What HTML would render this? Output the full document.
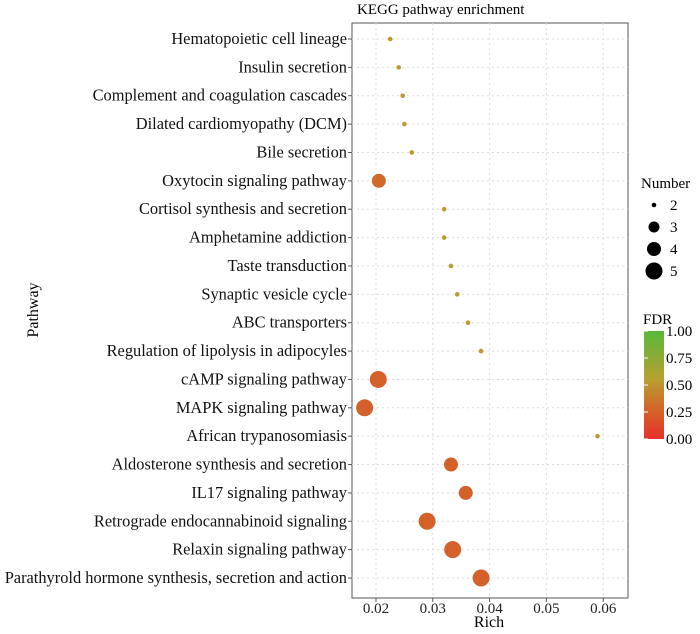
<!DOCTYPE html>
<html><head><meta charset="utf-8"><style>
body{margin:0;background:#fff;}
svg{font-family:"Liberation Serif",serif;}
</style></head><body>
<svg id="chart" width="700" height="629">
<defs><linearGradient id="fdrg" x1="0" y1="1" x2="0" y2="0">
<stop offset="0" stop-color="#e8302a"/><stop offset="0.3" stop-color="#d06a2a"/><stop offset="0.55" stop-color="#b8a030"/><stop offset="1" stop-color="#58b83a"/></linearGradient></defs>
<text x="357" y="14" font-size="15">KEGG pathway enrichment</text>
<g id="plot"></g>
<text x="489" y="627" font-size="16" text-anchor="middle">Rich</text>
<text transform="translate(38,310) rotate(-90)" font-size="16" text-anchor="middle">Pathway</text>
<g>
<text x="641" y="188" font-size="15">Number</text>
</g>
<g>
<text x="643" y="324" font-size="15">FDR</text>
<rect x="644" y="331" width="20" height="108" fill="url(#fdrg)"/>
</g>
</svg>
<script>
const pathways=["Hematopoietic cell lineage","Insulin secretion","Complement and coagulation cascades","Dilated cardiomyopathy (DCM)","Bile secretion","Oxytocin signaling pathway","Cortisol synthesis and secretion","Amphetamine addiction","Taste transduction","Synaptic vesicle cycle","ABC transporters","Regulation of lipolysis in adipocyles","cAMP signaling pathway","MAPK signaling pathway","African trypanosomiasis","Aldosterone synthesis and secretion","IL17 signaling pathway","Retrograde endocannabinoid signaling","Relaxin signaling pathway","Parathyrold hormone synthesis, secretion and action"];
const rich=[0.0225,0.024,0.0247,0.025,0.0263,0.0205,0.032,0.032,0.0332,0.0343,0.0362,0.0385,0.0204,0.018,0.059,0.0332,0.0358,0.029,0.0335,0.0385];
const counts=[2,2,2,2,2,4,2,2,2,2,2,2,5,5,2,4,4,5,5,5];
const fdr=[0.52,0.52,0.52,0.52,0.52,0.3,0.52,0.52,0.52,0.52,0.52,0.52,0.25,0.25,0.52,0.25,0.25,0.25,0.25,0.25];
const xTicks=[0.02,0.03,0.04,0.05,0.06];
const sizeLegend=[2,3,4,5];
const fdrTicks=[0,0.25,0.5,0.75,1];
const NS="http://www.w3.org/2000/svg";
const L=352,R=628,T=23,B=598;
const x=v=>376+(v-0.02)*5680;
const y=i=>39+i*28.37;
const RADII={2:2.3,3:5.5,4:7,5:8.5};
const rad=n=>RADII[n];
function col(f){const stops=[[0,[232,48,42]],[0.3,[208,106,42]],[0.55,[184,160,48]],[1,[88,184,58]]];for(let k=1;k<stops.length;k++){if(f<=stops[k][0]){const a=stops[k-1],b=stops[k],t=(f-a[0])/(b[0]-a[0]);return 'rgb('+a[1].map((c,j)=>Math.round(c+(b[1][j]-c)*t)).join(',')+')';}}return 'rgb(88,184,58)';}
function mk(tag,attrs,parent){const e=document.createElementNS(NS,tag);for(const k in attrs)e.setAttribute(k,attrs[k]);parent.appendChild(e);return e;}
const svg=document.getElementById('chart');const g=document.getElementById('plot');
const bg=mk('rect',{x:L,y:T,width:R-L,height:B-T,fill:'#fff',stroke:'#555','stroke-width':1},g);


xTicks.forEach(t=>{const gl=mk('line',{x1:x(t),x2:x(t),y1:T,y2:B,stroke:'#ddd','stroke-dasharray':'2,3'},g);


mk('line',{x1:x(t),x2:x(t),y1:B,y2:B+4,stroke:'#555'},g);
const tl=mk('text',{x:x(t),y:B+15,'font-size':15,'text-anchor':'middle',fill:'#222'},g);tl.textContent=String(t);

});
pathways.forEach((p,i)=>{const gl=mk('line',{x1:L,x2:R,y1:y(i),y2:y(i),stroke:'#ddd','stroke-dasharray':'2,3'},g);


mk('line',{x1:L-4,x2:L,y1:y(i),y2:y(i),stroke:'#555'},g);
const tl=mk('text',{x:L-5,y:y(i)+5,'font-size':16.4,'text-anchor':'end',fill:'#111'},g);tl.textContent=p;

});
pathways.forEach((p,i)=>{const c=mk('circle',{cx:x(rich[i]),cy:y(i),r:rad(counts[i]),fill:col(fdr[i])},g);

});
sizeLegend.forEach((n,k)=>{const cy=205+k*22;mk('circle',{cx:654,cy:cy,r:rad(n),fill:'#000'},svg);
const t=mk('text',{x:670,y:cy+5,'font-size':15},svg);t.textContent=n;

});
fdrTicks.forEach(v=>{const yy=439-v*108;mk('line',{x1:644,x2:648,y1:yy,y2:yy,stroke:'#fff'},svg);
const t=mk('text',{x:666,y:yy+5,'font-size':15},svg);t.textContent=v.toFixed(2);

});
</script>
</body></html>
